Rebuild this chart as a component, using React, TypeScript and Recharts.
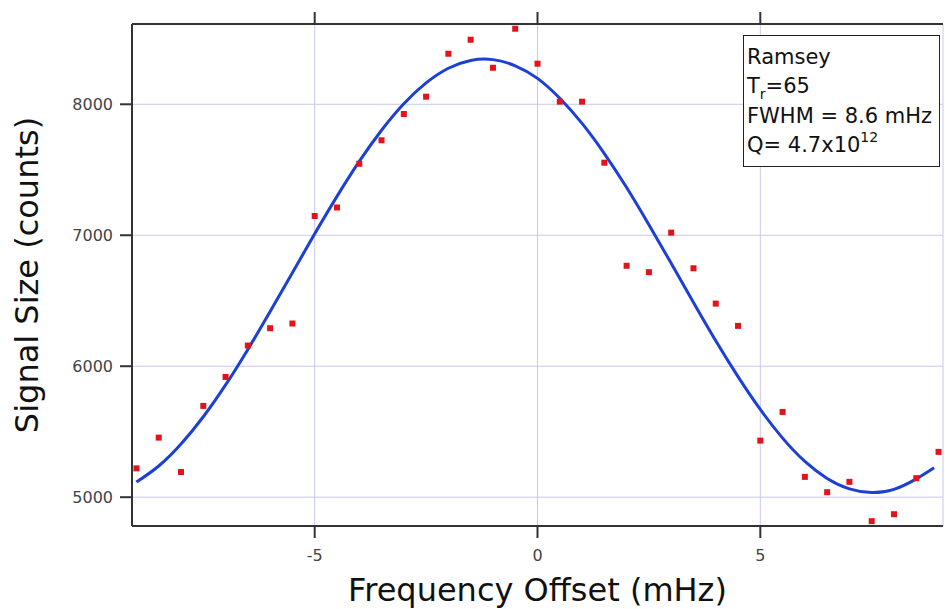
import React from "react";
import {
  ComposedChart, Line, Scatter, XAxis, YAxis, CartesianGrid, Label,
} from "recharts";

const offsets = [
  -9, -8.5, -8, -7.5, -7, -6.5, -6, -5.5, -5, -4.5, -4, -3.5, -3, -2.5, -2, -1.5, -1, -0.5,
  0, 0.5, 1, 1.5, 2, 2.5, 3, 3.5, 4, 4.5, 5, 5.5, 6, 6.5, 7, 7.5, 8, 8.5, 9,
];
const counts = [
  5220, 5455, 5192, 5697, 5918, 6158, 6290, 6326, 7147, 7212, 7546, 7725, 7926, 8058, 8386, 8493, 8279, 8577,
  8310, 8020, 8020, 7554, 6767, 6718, 7020, 6748, 6478, 6308, 5432, 5651, 5155, 5038, 5117, 4817, 4870, 5145, 5346,
];

// fitted Ramsey fringe (blue curve)
const fitOffsets = [
  -9, -8.5, -8, -7.5, -7, -6.5, -6, -5.5, -5, -4.5, -4, -3.5, -3, -2.5, -2, -1.5, -1, -0.5,
  0, 0.5, 1, 1.5, 2, 2.5, 3, 3.5, 4, 4.5, 5, 5.5, 6, 6.5, 7, 7.5, 8, 8.5, 8.9,
];
const fitCounts = [
  5115, 5238, 5406, 5614, 5857, 6128, 6417, 6714, 7011, 7297, 7564, 7802, 8004, 8163, 8275, 8335, 8341, 8294,
  8198, 8046, 7854, 7624, 7364, 7080, 6786, 6487, 6195, 5921, 5670, 5451, 5273, 5143, 5063, 5035, 5060, 5140, 5225,
];

const xTicks = [-5, 0, 5];
const yTicks = [5000, 6000, 7000, 8000];

const points = offsets.map((x, i) => ({ x, y: counts[i] }));
const fit = fitOffsets.map((x, i) => ({ x, y: fitCounts[i] }));

const FONT = "'DejaVu Sans', sans-serif";
const FRAME = "#333";
const GRID = "#c8c8ee";
const frameLine = { stroke: FRAME, strokeWidth: 2 };

const Square = (props: any) => {
  const { cx, cy } = props;
  if (cx == null || cy == null) return null;
  return <rect x={cx - 3} y={cy - 3} width={6} height={6} fill="#e3121b" />;
};

export default function App() {
  return (
    <div style={{ position: "absolute", left: 0, top: 0, width: 945, height: 609, background: "#fff" }}>
      <ComposedChart
        width={945}
        height={609}
        margin={{ top: 12, right: 2, left: 0, bottom: 0 }}
      >
        <CartesianGrid stroke={GRID} strokeWidth={1} />
        <XAxis
          dataKey="x"
          type="number"
          domain={[-9.1, 9.1]}
          allowDataOverflow
          ticks={xTicks}
          height={83}
          tickSize={12}
          tickMargin={12}
          axisLine={frameLine}
          tickLine={frameLine}
          tick={{ fontSize: 16, fill: "#444", fontFamily: FONT }}
        >
          <Label
            content={(p: any) => {
              const vb = p.viewBox;
              return (
                <text
                  x={vb.x + vb.width / 2}
                  y={601}
                  textAnchor="middle"
                  fontSize={32}
                  fontFamily={FONT}
                  fill="#111"
                >
                  Frequency Offset (mHz)
                </text>
              );
            }}
          />
        </XAxis>
        {/* top edge of the frame, ticks only */}
        <XAxis
          xAxisId="top"
          dataKey="x"
          orientation="top"
          type="number"
          domain={[-9.1, 9.1]}
          allowDataOverflow
          ticks={xTicks}
          height={12}
          tickSize={12}
          tick={() => <g />}
          axisLine={frameLine}
          tickLine={frameLine}
        />
        <YAxis
          type="number"
          domain={[4780, 8613]}
          allowDataOverflow
          ticks={yTicks}
          width={132}
          tickSize={12}
          tickMargin={7}
          axisLine={frameLine}
          tickLine={frameLine}
          tick={{ fontSize: 16, fill: "#444", fontFamily: FONT }}
        >
          <Label
            content={(p: any) => {
              const vb = p.viewBox;
              const cy = vb.y + vb.height / 2;
              return (
                <text
                  x={38}
                  y={cy}
                  transform={`rotate(-90, 38, ${cy})`}
                  textAnchor="middle"
                  fontSize={32}
                  fontFamily={FONT}
                  fill="#111"
                >
                  Signal Size (counts)
                </text>
              );
            }}
          />
        </YAxis>
        <YAxis
          yAxisId="right"
          orientation="right"
          type="number"
          domain={[4780, 8613]}
          width={0}
          tick={false}
          tickLine={false}
          axisLine={frameLine}
        />
        {/* invisible series so the top frame axis gets drawn */}
        <Scatter
          xAxisId="top"
          data={points}
          dataKey="y"
          shape={() => <g />}
          isAnimationActive={false}
        />
        <Line
          data={fit}
          dataKey="y"
          type="natural"
          stroke="#1c3fd6"
          strokeWidth={3}
          dot={false}
          activeDot={false}
          isAnimationActive={false}
        />
        <Scatter
          data={points}
          dataKey="y"
          shape={<Square />}
          isAnimationActive={false}
        />
      </ComposedChart>

      {/* fit parameters box */}
      <div
        style={{
          position: "absolute",
          left: 743,
          top: 35,
          width: 197,
          height: 132,
          border: "1.5px solid #222",
          background: "#fff",
          fontFamily: FONT,
          fontSize: 21,
          lineHeight: "28.5px",
          color: "#111",
          paddingLeft: 3,
          paddingTop: 7,
          boxSizing: "border-box",
          whiteSpace: "nowrap",
        }}
      >
        <div>Ramsey</div>
        <div>
          T<span style={{ fontSize: 14, position: "relative", top: 6 }}>r</span>=65
        </div>
        <div>FWHM = 8.6 mHz</div>
        <div>
          Q= 4.7x10<span style={{ fontSize: 14, position: "relative", top: -10 }}>12</span>
        </div>
      </div>
    </div>
  );
}
